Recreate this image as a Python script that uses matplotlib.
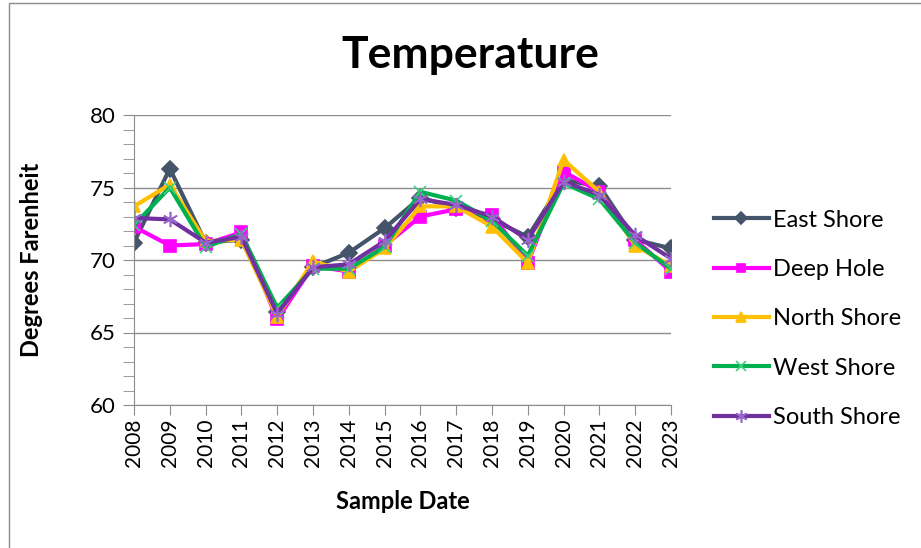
import matplotlib.pyplot as plt
from matplotlib.patches import Rectangle
from matplotlib.ticker import MultipleLocator

plt.rcParams['font.family'] = ['Lato', 'DejaVu Sans']

#-----DATA--------------------------------------------------
years = ['2008', '2009', '2010', '2011', '2012', '2013', '2014', '2015',
         '2016', '2017', '2018', '2019', '2020', '2021', '2022', '2023']

east_shore = [71.2, 76.3, 71.2, 71.4, 66.4, 69.5, 70.5, 72.2,
              74.3, 73.6, 72.8, 71.6, 75.5, 75.1, 71.4, 70.8]
deep_hole = [72.3, 71.0, 71.1, 71.9, 65.9, 69.6, 69.2, 71.0,
             73.0, 73.5, 73.1, 69.8, 76.1, 74.7, 71.4, 69.2]
north_shore = [73.7, 75.2, 71.3, 71.4, 66.1, 69.9, 69.2, 70.8,
               73.7, 73.7, 72.3, 69.8, 76.9, 74.7, 71.0, 69.6]
west_shore = [72.4, 75.0, 70.9, 71.8, 66.7, 69.4, 69.4, 70.9,
              74.7, 74.1, 72.7, 70.3, 75.3, 74.2, 71.2, 69.4]
south_shore = [72.9, 72.8, 71.2, 71.6, 66.3, 69.5, 69.7, 71.3,
               74.2, 73.8, 73.0, 71.4, 75.4, 74.5, 71.7, 70.1]
#-----/DATA-------------------------------------------------

series = [
    ("East Shore", east_shore, "#44546A", "D", "#44546A", 8),
    ("Deep Hole", deep_hole, "#FF00FF", "s", "#FF00FF", 8),
    ("North Shore", north_shore, "#FFC000", "^", "#FFC000", 9),
    ("West Shore", west_shore, "#00B050", "x", "#3FD07F", 9),
    ("South Shore", south_shore, "#7030A0", (6, 2, 0), "#9966CC", 11),
]

fig = plt.figure(figsize=(9.21, 5.48), dpi=100)
# outer chart border
fig.patches.append(Rectangle((9 / 921, -0.01), 1.0, 1 - 3 / 548 + 0.01,
                             transform=fig.transFigure, fill=False,
                             edgecolor="#8C8C8C", linewidth=1))

ax = fig.add_axes([134 / 921, 1 - 405 / 548, (671 - 134) / 921, (405 - 115) / 548])

x = range(len(years))
for name, vals, col, mk, mcol, ms in series:
    ax.plot(x, vals, color=col, linewidth=3, marker=mk, markersize=ms,
            markerfacecolor=mcol, markeredgecolor=mcol, markeredgewidth=1.2,
            label=name)

ax.set_xlim(0, len(years) - 1)
ax.set_ylim(60, 80)
ax.set_xticks(list(x))
ax.set_xticklabels(years, rotation=90, fontsize=15)
ax.yaxis.set_major_locator(MultipleLocator(5))
ax.yaxis.set_minor_locator(MultipleLocator(1))
ax.tick_params(axis='y', labelsize=16, length=8, color="#8C8C8C", pad=5)
ax.tick_params(axis='y', which='minor', length=8, color="#8C8C8C")
ax.tick_params(axis='x', length=7, color="#8C8C8C", pad=3)
ax.grid(axis='y', color="#8C8C8C", linewidth=1)
ax.set_axisbelow(True)
for s in ['top', 'right']:
    ax.spines[s].set_visible(False)
for s in ['left', 'bottom']:
    ax.spines[s].set_color("#8C8C8C")

ax.set_xlabel("Sample Date", fontsize=17, fontweight='bold')
ax.set_ylabel("Degrees Farenheit", fontsize=17, fontweight='bold')
ax.xaxis.set_label_coords(0.5, -0.293)
ax.yaxis.set_label_coords(-0.169, 0.5)
fig.text(470 / 921, 1 - 55 / 548, "Temperature", fontsize=32, fontweight='bold',
         ha='center', va='center')

ax.legend(loc='center left', bbox_to_anchor=(1.063, 0.297), frameon=False,
          fontsize=17, handlelength=2.3, labelspacing=1.2, handletextpad=0.2,
          borderaxespad=0, markerscale=0.8)

fig.savefig("out.png", dpi=100)
